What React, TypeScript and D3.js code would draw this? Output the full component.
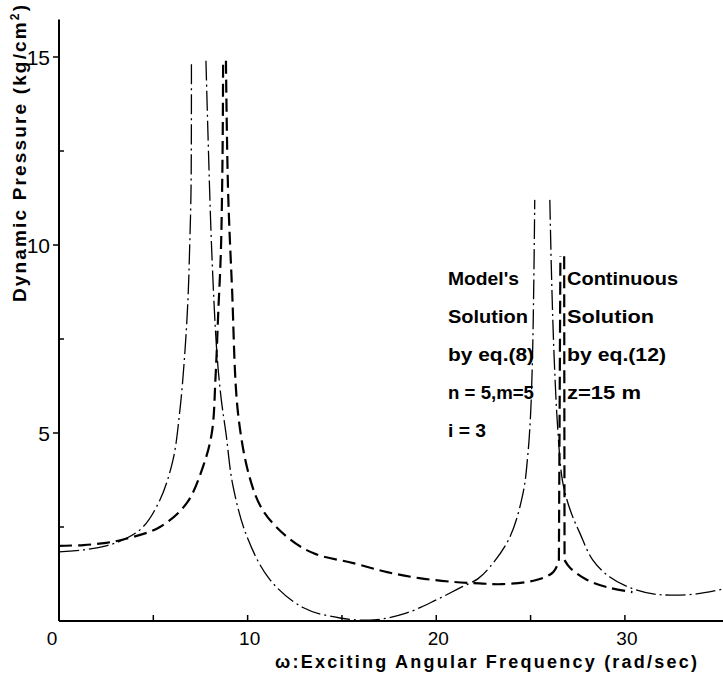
import React from "react";
import * as d3 from "d3";

// Model's solution, eq.(8)  (dash-dot line); NaN splits the branches cut at the peaks
const modelSolution: [number, number][] = [
  [0, 1.84], [1.3, 1.89], [2.5, 2.0], [3.5, 2.18], [4.45, 2.5], [5.35, 3.22],
  [6.04, 4.28], [6.41, 5.61], [6.68, 7.2], [6.84, 8.6], [6.93, 10], [7.0, 11.5], [7.02, 14.9],
  [NaN, NaN],
  [7.79, 14.9], [7.9, 12.9], [8.1, 9.8], [8.37, 7.13], [8.6, 5.9], [8.85, 5.0], [9.22, 3.6],
  [9.96, 2.25], [11.18, 1.1], [12.93, 0.36], [14.9, 0.08], [16.7, 0.03], [18.4, 0.21],
  [20.0, 0.56], [21.25, 0.88], [22.2, 1.12], [22.85, 1.44], [23.9, 2.23], [24.6, 3.4],
  [24.85, 4.4], [25.0, 5.5], [25.1, 7], [25.17, 9], [25.22, 11.2],
  [NaN, NaN],
  [26.02, 11.2], [26.12, 9], [26.25, 7], [26.44, 5.1], [26.7, 3.7], [27.1, 2.95], [27.6, 2.35],
  [28.3, 1.62], [29.2, 1.17], [30.3, 0.88], [31.5, 0.72], [32.4, 0.69], [33.8, 0.72], [35.2, 0.85],
];

// Continuous solution, eq.(12)  (dashed line); the cusp at the 2nd peak is kept sharp
const continuousSolution: [number, number][] = [
  [0, 2.0], [1.3, 2.02], [2.5, 2.08], [3.5, 2.18], [5.35, 2.5], [6.78, 3.14], [7.63, 4.1],
  [8.1, 5.0], [8.3, 6.5], [8.45, 8.3], [8.58, 9.8], [8.67, 12.4], [8.7, 14.9],
  [NaN, NaN],
  [8.85, 14.9], [8.96, 11.5], [9.17, 8.88], [9.49, 5.53], [10.1, 3.83], [10.8, 2.95],
  [12.1, 2.23], [13.5, 1.8], [15.6, 1.54], [17.4, 1.3], [19.1, 1.14], [20.9, 1.04],
  [22.3, 1.0], [23.5, 0.98], [25.3, 1.09], [26.2, 1.3], [26.5, 1.6],
  [NaN, NaN],
  [26.5, 1.6], [26.58, 9.7],
  [NaN, NaN],
  [26.78, 9.7], [26.8, 1.62],
  [NaN, NaN],
  [26.8, 1.62], [27.1, 1.41], [28.0, 1.09], [29.2, 0.88], [30.4, 0.77],
];

const xTicks = [0, 5, 10, 15, 20, 25, 30];
const xTickLabels = ["0", "10", "20", "30"];
const yTicks = [2.5, 5, 7.5, 10, 12.5, 15];
const yTickLabels = ["5", "10", "15"];

const leftNote = ["Model's", "Solution", "by eq.(8)", "n = 5,m=5", "i = 3"];
const rightNote = ["Continuous", "Solution", "by eq.(12)", "z=15 m"];

const W = 723;
const H = 675;
const font = "'Liberation Sans', Arial, sans-serif";

export default function App() {
  const x = d3.scaleLinear().domain([0, 35.2]).range([59, 723]);
  const y = d3.scaleLinear().domain([0, 16]).range([621, 19.4]);

  const line = d3
    .line<[number, number]>()
    .defined((d) => !isNaN(d[0]))
    .x((d) => x(d[0]))
    .y((d) => y(d[1]))
    .curve(d3.curveCatmullRom.alpha(0.5));

  const leftW = [71, 80, 86, 86, 38];
  const rightW = [111, 87, 99, 74];

  return (
    <svg width={W} height={H} style={{ position: "absolute", left: 0, top: 0, background: "#fff" }}>
      {/* axes */}
      <line x1={x(0)} x2={W} y1={y(0)} y2={y(0)} stroke="#000" strokeWidth={2} />
      <line x1={x(0)} x2={x(0)} y1={y(0)} y2={y(16)} stroke="#000" strokeWidth={2} />
      {xTicks.map((t) => (
        <line key={"xt" + t} x1={x(t)} x2={x(t)} y1={y(0)} y2={y(0) - 6} stroke="#000" strokeWidth={1.5} />
      ))}
      {xTickLabels.map((t) => (
        <text key={"xl" + t} x={t === "0" ? x(0) - 7 : x(+t) + 2} y={645} textAnchor="middle"
          fontFamily={font} fontSize={19}>{t}</text>
      ))}
      {yTicks.map((t) => {
        const major = t % 5 === 0;
        return (
          <line key={"yt" + t} x1={x(0)} x2={major ? x(0) - 6 : x(0) + 5} y1={y(t)} y2={y(t)}
            stroke="#000" strokeWidth={1.5} />
        );
      })}
      {yTickLabels.map((t) => (
        <text key={"yl" + t} x={50} y={y(+t) + 8} textAnchor="end" fontFamily={font} fontSize={21}>{t}</text>
      ))}

      {/* curves */}
      <path d={line(modelSolution) ?? ""} fill="none" stroke="#000" strokeWidth={1.3}
        strokeDasharray="20 4 2 4" />
      <path d={line(continuousSolution) ?? ""} fill="none" stroke="#000" strokeWidth={2.2}
        strokeDasharray="13 6" />

      {/* notes */}
      {leftNote.map((s, i) => (
        <text key={"ln" + i} x={448} y={285 + i * 38} fontFamily={font} fontSize={19} fontWeight={700}
          textLength={leftW[i]} lengthAdjust="spacingAndGlyphs">{s}</text>
      ))}
      {rightNote.map((s, i) => (
        <text key={"rn" + i} x={567} y={285 + i * 38} fontFamily={font} fontSize={19} fontWeight={700}
          textLength={rightW[i]} lengthAdjust="spacingAndGlyphs">{s}</text>
      ))}

      {/* axis titles */}
      <text x={275} y={668} fontFamily={font} fontSize={18} fontWeight={700} textLength={422}
        lengthAdjust="spacing">ω:Exciting Angular Frequency (rad/sec)</text>
      <text transform="translate(26,302) rotate(-90)" fontFamily={font} fontSize={19} fontWeight={700}
        textLength={297} lengthAdjust="spacing">
        Dynamic Pressure (kg/cm<tspan dy={-7} fontSize={12}>2</tspan><tspan dy={7}>)</tspan>
      </text>
    </svg>
  );
}
